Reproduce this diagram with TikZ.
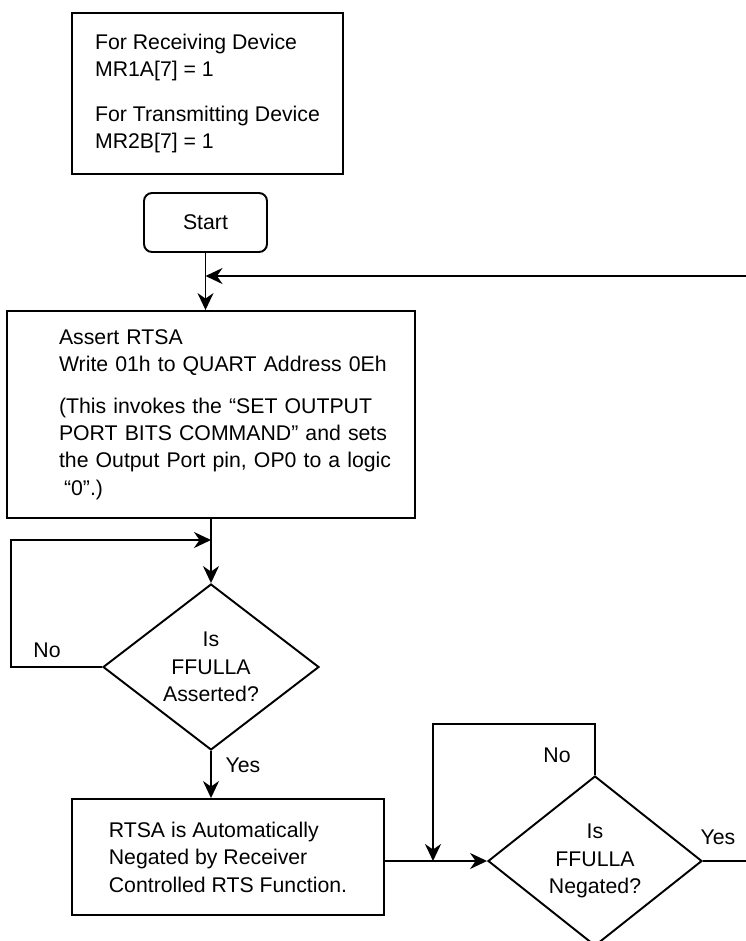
\documentclass[tikz,border=0pt]{standalone}
\usepackage{fontspec}
\setmainfont{Liberation Sans}
\usetikzlibrary{arrows.meta,positioning,shapes.geometric}
\newcommand{\flowfont}{\fontsize{12.1}{15.6}\selectfont}
\tikzset{
  arr/.style={-{Stealth[length=0.34cm,width=0.32cm]}, line width=1.1pt},
  conn/.style={line width=1.1pt},
  procbox/.style={draw, line width=1.1pt, align=left, inner sep=0pt, font=\flowfont},
  startbox/.style={draw, rounded corners=0.16cm, line width=1.1pt, inner sep=0pt, font=\flowfont},
  decision/.style={diamond, aspect=1.3, draw, line width=1.1pt, inner sep=0pt, align=center, font=\flowfont},
  lbl/.style={font=\flowfont, inner sep=0pt}
}

\begin{document}
\begin{tikzpicture}[x=0.02cm,y=-0.02cm]
  \useasboundingbox (0,0) rectangle (746,941);
  \clip (0,0) rectangle (746,941);
  \node[procbox, minimum width=5.42cm, minimum height=3.22cm] (mode) at (207.5,93.5) {For Receiving Device\\MR1A[7] = 1\\[10pt]For Transmitting Device\\MR2B[7] = 1};
  \node[startbox, minimum width=2.46cm, minimum height=1.18cm] (start) at (205.5,222.5) {Start};
  \node[procbox, minimum width=8.16cm, minimum height=4.14cm, text width=7.6cm] (assert) at (211,414.5) {\leftskip=0.76cm Assert RTSA\\Write 01h to QUART Address 0Eh\\[8pt](This invokes the “SET OUTPUT\\PORT BITS COMMAND” and sets\\the Output Port pin, OP0 to a logic\\\hspace*{0.1cm}“0”.)\par};
  \node[decision, minimum width=4.32cm, minimum height=3.32cm] (asserted) at (211,667) {Is\\FFULLA\\Asserted?};
  \node[procbox, minimum width=6.24cm, minimum height=2.32cm] (negated) at (228,857) {RTSA is Automatically\\Negated by Receiver\\Controlled RTS Function.};
  \node[decision, minimum width=4.28cm, minimum height=3.40cm] (released) at (595,861) {Is\\FFULLA\\Negated?};
  \node[lbl] (no1) at (47,650) {No};
  \node[lbl] (yes1) at (243,765) {Yes};
  \node[lbl] (no2) at (557,755) {No};
  \node[lbl] (yes2) at (718,837) {Yes};
  \coordinate (loopin) at (746,276);
  \coordinate (noturn1) at (11,540);
  \coordinate (noturn2) at (433,724);
  \coordinate (yesout) at (746,861);
  \draw[arr] (start.south) -- (start.south |- assert.north);
  \draw[arr] (loopin) -- (start.south |- loopin);
  \draw[arr] (assert.south -| asserted.north) -- (asserted.north);
  \draw[arr] (asserted.west) -| (noturn1) -- (noturn1 -| asserted.north);
  \draw[arr] (asserted.south) -- (asserted.south |- negated.north);
  \draw[arr] (negated.east |- released.west) -- (released.west);
  \draw[arr] (released.north) |- (noturn2) -- (noturn2 |- released.west);
  \draw[conn] (released.east) -- (yesout);
\end{tikzpicture}
\end{document}
